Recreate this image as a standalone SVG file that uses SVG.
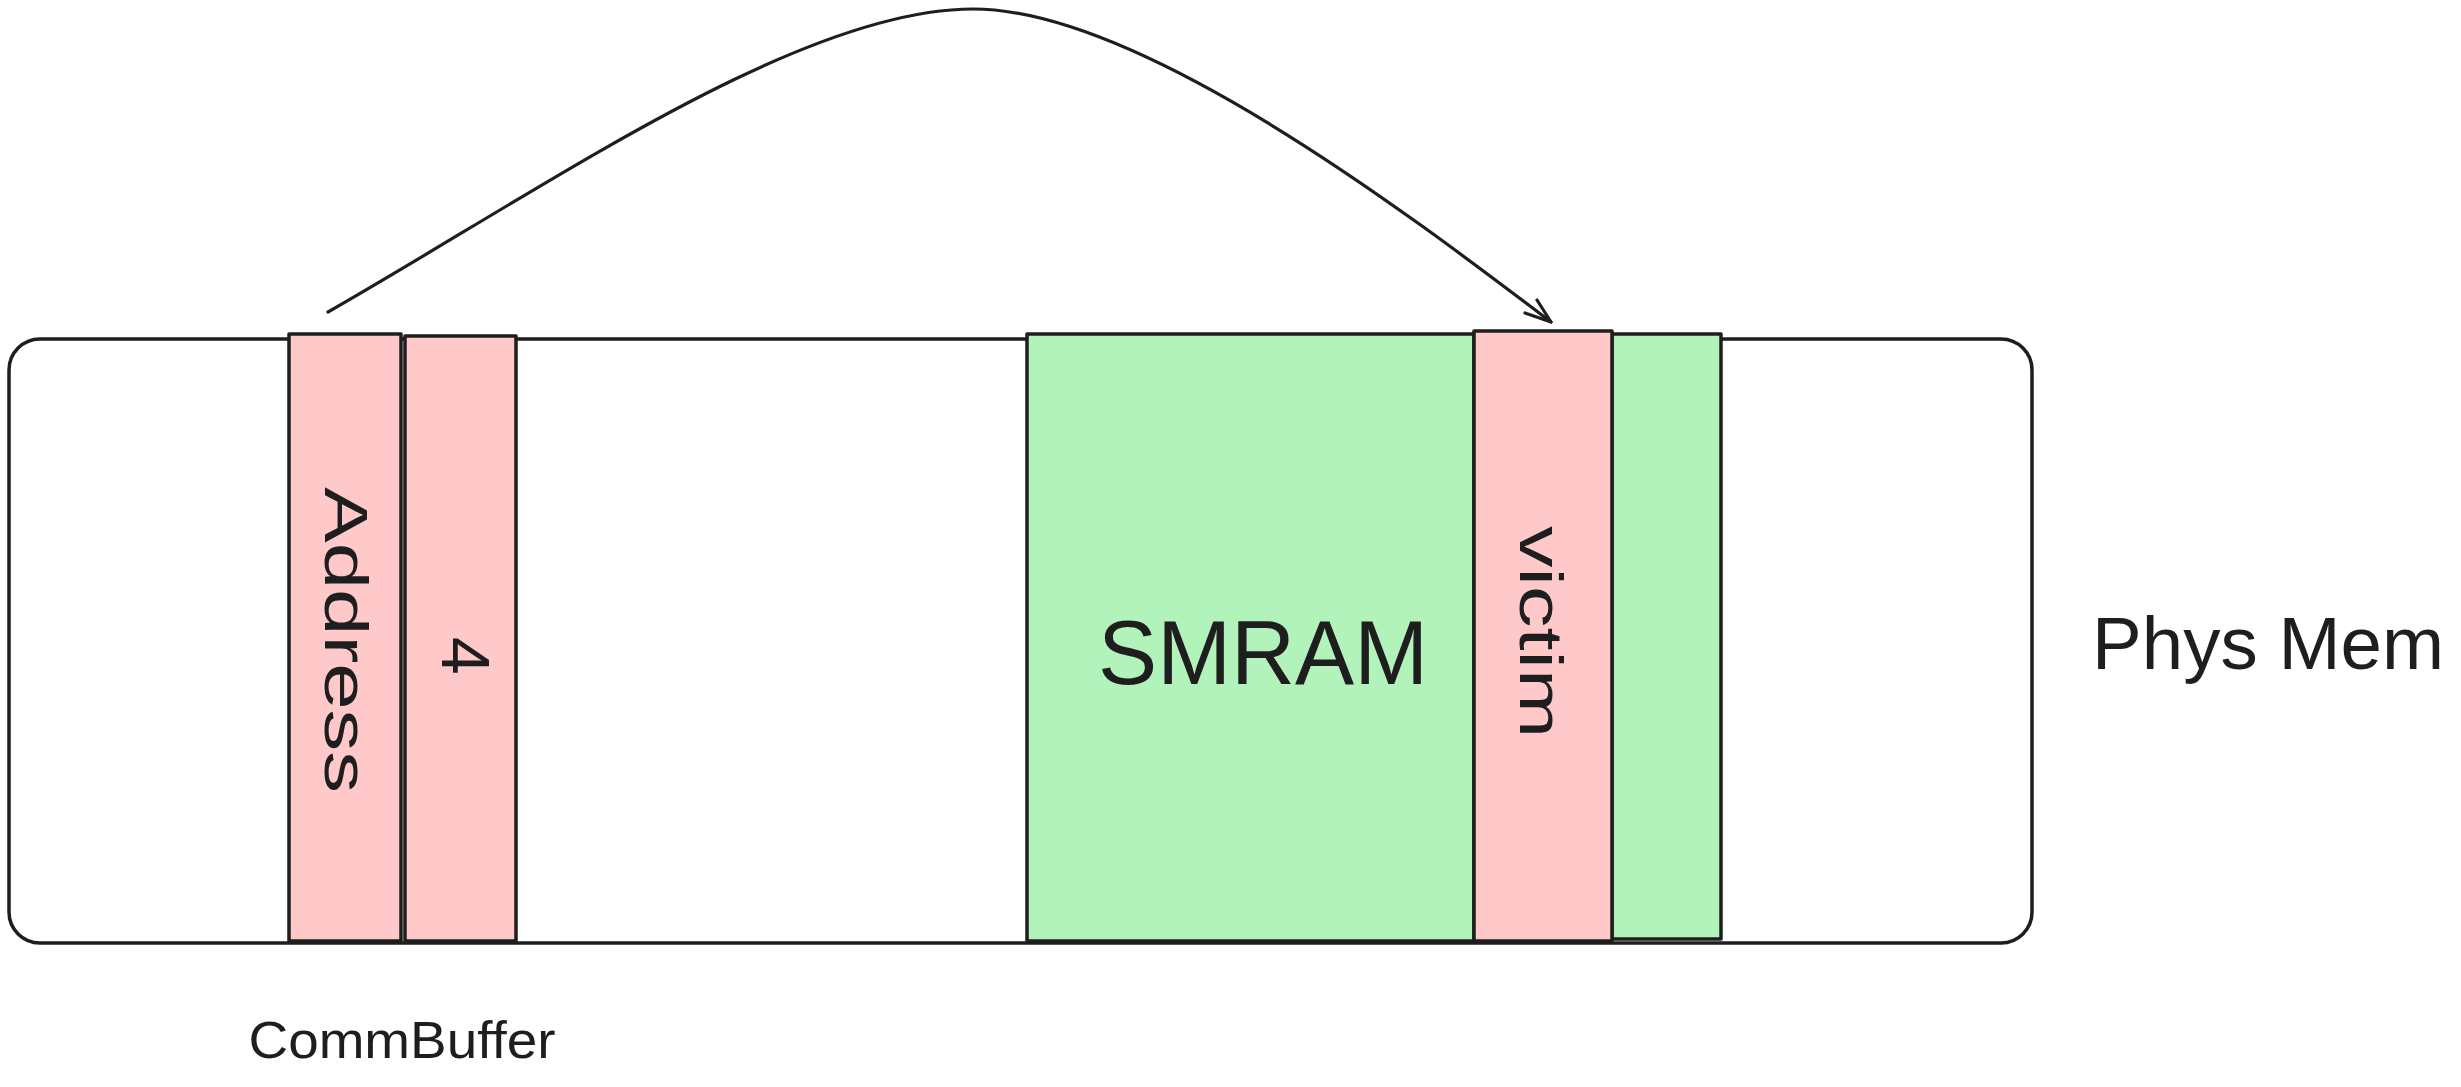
<svg xmlns="http://www.w3.org/2000/svg" width="2461" height="1087" viewBox="0 0 2461 1087">
<style>
.box{stroke:#1e1e1e;stroke-width:3.5;stroke-linejoin:round}
.pink{fill:#ffc9c9}
.green{fill:#b2f2bb}
.t{font-family:"Liberation Sans",Arial,sans-serif;fill:#1e1e1e;text-anchor:middle;dominant-baseline:central}
.edge{fill:none;stroke:#1e1e1e;stroke-width:3.2;stroke-linecap:round;stroke-linejoin:round}
</style>
<rect width="2461" height="1087" fill="#ffffff"/>
<g id="physmem">
<rect class="box" x="9" y="339" width="2023" height="604" rx="31" fill="#ffffff"/>
<text class="t" x="2268" y="643" font-size="74" textLength="352" lengthAdjust="spacingAndGlyphs">Phys Mem</text>
</g>
<g id="address">
<rect class="box pink" x="289" y="334" width="112" height="607"/>
<text class="t" transform="translate(346,640) rotate(90)" font-size="62" textLength="306" lengthAdjust="spacingAndGlyphs">Address</text>
</g>
<g id="size4">
<rect class="box pink" x="405" y="336" width="111" height="605"/>
<text class="t" transform="translate(466,656) rotate(90)" font-size="68">4</text>
</g>
<g id="smram">
<rect class="box green" x="1027" y="334" width="447" height="607"/>
<text class="t" x="1263" y="653" font-size="90" textLength="330" lengthAdjust="spacingAndGlyphs">SMRAM</text>
</g>
<g id="smram2">
<rect class="box green" x="1612" y="334" width="109" height="605"/>
</g>
<g id="victim">
<rect class="box pink" x="1474" y="331" width="138" height="610"/>
<text class="t" transform="translate(1541,632) rotate(90)" font-size="62" textLength="212" lengthAdjust="spacingAndGlyphs">victim</text>
</g>
<g id="commbuffer">
<text class="t" x="402" y="1040" font-size="52" textLength="307" lengthAdjust="spacingAndGlyphs">CommBuffer</text>
</g>
<g id="connectors">
<path class="edge" d="M328,312 C550,185 800,9 973,9 C1140,9 1410,215 1551,322"/>
<path class="edge" d="M1537,300 L1551,322 L1525,313"/>
</g>
</svg>
